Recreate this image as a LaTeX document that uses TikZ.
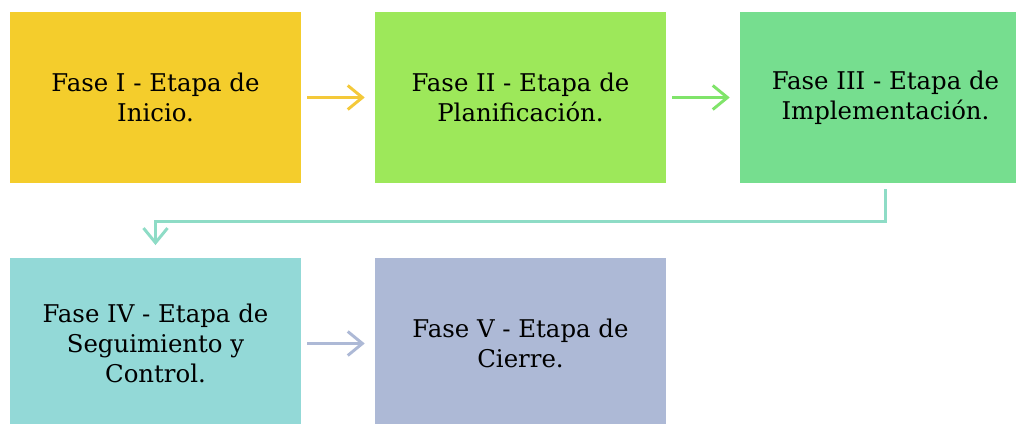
\documentclass[tikz,border=0pt]{standalone}
\usepackage{fontspec}
\setmainfont{DejaVu Serif}
\usepackage{tikz}
\usetikzlibrary{arrows.meta,positioning}

\definecolor{faseuno}{HTML}{F4CD2C}
\definecolor{fasedos}{HTML}{9DE85A}
\definecolor{fasetres}{HTML}{76DE8F}
\definecolor{fasecuatro}{HTML}{93D9D7}
\definecolor{fasecinco}{HTML}{ADB9D6}
\definecolor{flechauno}{HTML}{F4C93A}
\definecolor{flechados}{HTML}{80E46A}
\definecolor{flechatres}{HTML}{8EDCC6}

\begin{document}
\begin{tikzpicture}[x=0.75pt,y=-0.75pt]
\tikzstyle{fase}=[inner sep=0pt, minimum width=218.25pt, minimum height=128.25pt,
  align=center, font=\fontsize{18.3}{22.3}\selectfont]
\tikzstyle{flecha}=[line width=2.2pt, -{Straight Barb[length=11pt,width=18pt,line width=2.2pt]}]
\clip (0,0) rectangle (1016,424);
\fill[white] (0,0) rectangle (1016,424);
% fila de arriba
\node [fase, fill=faseuno] (f1) at (155.5,97.5) {Fase I - Etapa de\\Inicio.};
\node [fase, fill=fasedos] (f2) at (520.5,97.5) {Fase II - Etapa de\\Planificaci\'on.};
\node [fase, fill=fasetres] (f3) at (885.5,97.5) {Fase III - Etapa de\\Implementaci\'on.};
% fila de abajo
\node [fase, fill=fasecuatro] (f4) at (155.5,343.5) {Fase IV - Etapa de\\Seguimiento y\\Control.};
\node [fase, fill=fasecinco] (f5) at (520.5,343.5) {Fase V - Etapa de\\Cierre.};
% flechas
\draw [flecha, flechauno] ([xshift=4.5pt]f1.east) -- ([xshift=-7.5pt]f2.west);
\draw [flecha, flechados] ([xshift=4.5pt]f2.east) -- ([xshift=-7.5pt]f3.west);
\draw [flecha, flechatres] ([yshift=-4.5pt]f3.south) -- ++(0,32) -| ([yshift=9.5pt]f4.north);
\draw [flecha, fasecinco] ([xshift=4.5pt]f4.east) -- ([xshift=-7.5pt]f5.west);
\end{tikzpicture}
\end{document}
